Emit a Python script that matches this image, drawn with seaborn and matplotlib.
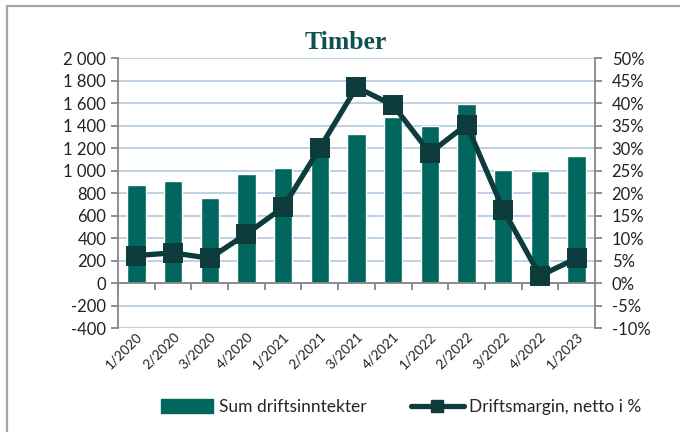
import matplotlib
matplotlib.use("Agg")
import matplotlib.pyplot as plt
import matplotlib.ticker as ticker
from matplotlib.lines import Line2D
from matplotlib.patches import Patch
import numpy as np
import pandas as pd
import seaborn as sns

quarters = ["1/2020", "2/2020", "3/2020", "4/2020", "1/2021", "2/2021", "3/2021",
            "4/2021", "1/2022", "2/2022", "3/2022", "4/2022", "1/2023"]
revenue = [867, 903, 755, 971, 1019, 1195, 1324, 1472, 1392, 1591, 1007, 992, 1131]
margin = [6.1, 6.7, 5.5, 10.9, 16.8, 30.0, 43.5, 39.5, 28.9, 35.2, 16.3, 1.6, 5.5]

BAR_COLOR = "#00665E"
LINE_COLOR = "#0E3B3B"
GRID_COLOR = "#B9CDE5"
AXIS_COLOR = "#868686"

sns.set_theme(style="white")
plt.rcParams["font.family"] = ["Lato", "DejaVu Sans"]
plt.rcParams["axes.unicode_minus"] = False

df = pd.DataFrame({"quarter": quarters, "revenue": revenue, "margin": margin})

fig = plt.figure(figsize=(6.8, 4.32), dpi=100)
ax = fig.add_axes([0.1735, 0.2407, 0.7015, 0.625])

sns.barplot(data=df, x="quarter", y="revenue", order=quarters, color=BAR_COLOR,
            saturation=1, width=0.5, ax=ax, zorder=2)
ax.set_ylim(-400, 2000)
ax.set_yticks(np.arange(-400, 2001, 200))
ax.yaxis.set_major_formatter(ticker.FuncFormatter(lambda v, _: f"{int(v):,}".replace(",", " ")))
ax.grid(axis="y", color=GRID_COLOR, linewidth=1.3, zorder=0)
ax.set_axisbelow(True)
ax.set_xlabel("")
ax.set_ylabel("")

# x axis sits at zero, labels below the plot
ax.spines["bottom"].set_position(("data", 0))
for s in ["bottom", "left"]:
    ax.spines[s].set_color(AXIS_COLOR)
    ax.spines[s].set_linewidth(1.3)
ax.spines["top"].set_visible(False)
ax.spines["right"].set_visible(False)
ax.set_xticks(np.arange(len(quarters)) - 0.5, minor=True)
ax.tick_params(axis="x", which="minor", bottom=True, direction="out", length=5,
               width=1.3, color=AXIS_COLOR)
ax.tick_params(axis="x", which="major", length=0, pad=34, labelsize=9.8, colors="#222222")
plt.setp(ax.get_xticklabels(), rotation=45, ha="right", rotation_mode="anchor")
ax.tick_params(axis="y", left=True, direction="out", length=5, width=1.3,
               color=AXIS_COLOR, labelsize=12, labelcolor="#222222")

ax2 = ax.twinx()
sns.pointplot(data=df, x="quarter", y="margin", order=quarters, color=LINE_COLOR,
              markers="s", markersize=12, linewidth=3.8, ax=ax2)
ax2.set_xlim(-0.5, len(quarters) - 0.5)
ax.set_xlim(-0.5, len(quarters) - 0.5)
ax2.set_ylim(-10, 50)
ax2.set_yticks(np.arange(-10, 51, 5))
ax2.yaxis.set_major_formatter(ticker.FuncFormatter(lambda v, _: f"{int(v)}%"))
ax2.set_ylabel("")
ax2.set_xlabel("")
for s in ["top", "left", "bottom"]:
    ax2.spines[s].set_visible(False)
ax2.spines["right"].set_color(AXIS_COLOR)
ax2.spines["right"].set_linewidth(1.3)
ax2.tick_params(axis="y", right=True, direction="out", length=5, width=1.3, pad=7,
                color=AXIS_COLOR, labelsize=12, labelcolor="#222222")
ax2.tick_params(axis="x", bottom=False, labelbottom=False)

fig.text(0.508, 0.902, "Timber", ha="center", va="center", fontsize=18.5,
         fontweight="bold", color="#0F5050", family="Liberation Serif")

handles = [Patch(facecolor=BAR_COLOR, edgecolor=BAR_COLOR),
           Line2D([], [], color=LINE_COLOR, linewidth=3.8, marker="s", markersize=9)]
fig.legend(handles, ["Sum driftsinntekter", "Driftsmargin, netto i %"],
           loc="center", bbox_to_anchor=(0.59, 0.058), ncol=2, frameon=False,
           fontsize=12.5, handlelength=3.0, handleheight=0.8, columnspacing=2.6,
           handletextpad=0.3)

# chart frame
fig.add_artist(Line2D([0.011, 0.011], [0.0, 0.986], color="#A6A6A6", linewidth=1.6))
fig.add_artist(Line2D([0.011, 1.0], [0.986, 0.986], color="#A6A6A6", linewidth=1.6))

fig.savefig("out.png", dpi=100)
